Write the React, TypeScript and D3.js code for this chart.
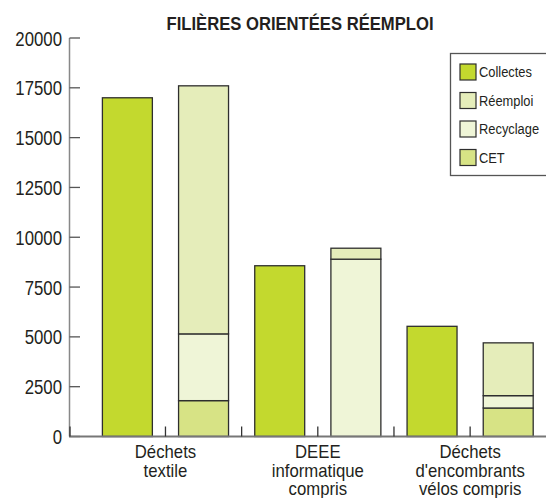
import * as d3 from "d3";

const W = 546;
const H = 498;

const categories = [
  ["Déchets", "textile"],
  ["DEEE", "informatique", "compris"],
  ["Déchets", "d'encombrants", "vélos compris"],
];
const collectes = [17000, 8570, 5530];
const cet = [1800, 0, 1430];
const recyclage = [3350, 8900, 620];
const reemploi = [12450, 550, 2650];
const yTicks = [0, 2500, 5000, 7500, 10000, 12500, 15000, 17500, 20000];

const stackKeys = ["CET", "Recyclage", "Réemploi"];
const legendKeys = ["Collectes", "Réemploi", "Recyclage", "CET"];
const colors: Record<string, string> = {
  Collectes: "#c3d92e",
  "Réemploi": "#e5edba",
  Recyclage: "#eff5d7",
  CET: "#d7e385",
};

const font = "'Liberation Sans', Arial, sans-serif";
const ink = "#231f20";

// texte "condensé" : police normale écrasée horizontalement
const Narrow = ({ x, y, sx, children, ...rest }: any) => (
  <text transform={`translate(${x},${y}) scale(${sx},1)`} fill={ink} {...rest}>
    {children}
  </text>
);

export default function App() {
  const y = d3.scaleLinear().domain([0, 20000]).range([436.5, 38]);
  const groups = categories.map((_, i) => String(i));
  const x0 = d3.scaleBand().domain(groups).range([89.3, 546.3]).padding(0);
  const x1 = d3
    .scaleBand()
    .domain(["c", "f"])
    .range([0, x0.bandwidth()])
    .paddingInner(0.344)
    .paddingOuter(0.172);

  const rows = groups.map((g, i) => ({
    g,
    CET: cet[i],
    Recyclage: recyclage[i],
    "Réemploi": reemploi[i],
  }));
  const series = d3.stack<any>().keys(stackKeys)(rows);

  // ticks sous les barres: milieu de groupe + limites entre groupes
  const xTicks: number[] = [];
  groups.forEach((g, i) => {
    xTicks.push(x0(g)! + x0.bandwidth() / 2);
    if (i < groups.length - 1) xTicks.push(x0(g)! + x0.bandwidth());
  });

  return (
    <svg
      width={W}
      height={H}
      style={{ position: "absolute", left: 0, top: 0, background: "#fff" }}
      fontFamily={font}
    >
      <Narrow x={300} y={29.5} sx={0.9} textAnchor="middle" fontSize={18.5} fontWeight="bold">
        FILIÈRES ORIENTÉES RÉEMPLOI
      </Narrow>

      {/* barres collectes */}
      {collectes.map((v, i) => (
        <rect
          key={"c" + i}
          x={x0(groups[i])! + x1("c")!}
          y={y(v)}
          width={x1.bandwidth()}
          height={y(0) - y(v)}
          fill={colors.Collectes}
          stroke="#2e2e2e"
          strokeWidth={1.3}
        />
      ))}

      {/* barres empilées */}
      {series.map((s) =>
        s.map((d, i) =>
          d[1] - d[0] > 0 ? (
            <rect
              key={s.key + i}
              x={x0(groups[i])! + x1("f")!}
              y={y(d[1])}
              width={x1.bandwidth()}
              height={y(d[0]) - y(d[1])}
              fill={colors[s.key]}
              stroke="#2e2e2e"
              strokeWidth={1.3}
            />
          ) : null
        )
      )}

      {/* axe y */}
      <line x1={69.5} x2={69.5} y1={y(20000)} y2={y(0)} stroke="#888" strokeWidth={1.5} />
      {yTicks.map((t) => (
        <g key={t}>
          <line x1={69.5} x2={80} y1={y(t)} y2={y(t)} stroke="#555" strokeWidth={1.3} />
          <Narrow x={62} y={y(t)} sx={0.8} dy="0.36em" textAnchor="end" fontSize={21}>
            {t}
          </Narrow>
        </g>
      ))}

      {/* axe x */}
      <line x1={69} x2={W} y1={y(0)} y2={y(0)} stroke="#777" strokeWidth={2} />
      <line x1={70} x2={70} y1={y(0) - 10} y2={y(0)} stroke="#333" strokeWidth={1.3} />
      {xTicks.map((t) => (
        <line key={t} x1={t} x2={t} y1={y(0) - 10} y2={y(0)} stroke="#333" strokeWidth={1.3} />
      ))}
      {categories.map((lines, i) => (
        <Narrow
          key={i}
          x={x0(groups[i])! + x0.bandwidth() / 2}
          y={458}
          sx={0.93}
          textAnchor="middle"
          fontSize={18}
        >
          {lines.map((l, j) => (
            <tspan key={j} x={0} dy={j === 0 ? 0 : 18.6}>
              {l}
            </tspan>
          ))}
        </Narrow>
      ))}

      {/* légende */}
      <rect x={450.5} y={53.5} width={110} height={122} fill="#fff" stroke="#555" strokeWidth={1.3} />
      {legendKeys.map((k, i) => (
        <g key={k} transform={`translate(460, ${72 + i * 28.5})`}>
          <rect x={0} y={-8} width={16} height={16} fill={colors[k]} stroke="#2e2e2e" strokeWidth={1.2} />
          <Narrow x={19} y={0} sx={0.92} dy="0.36em" fontSize={14}>
            {k}
          </Narrow>
        </g>
      ))}
    </svg>
  );
}
